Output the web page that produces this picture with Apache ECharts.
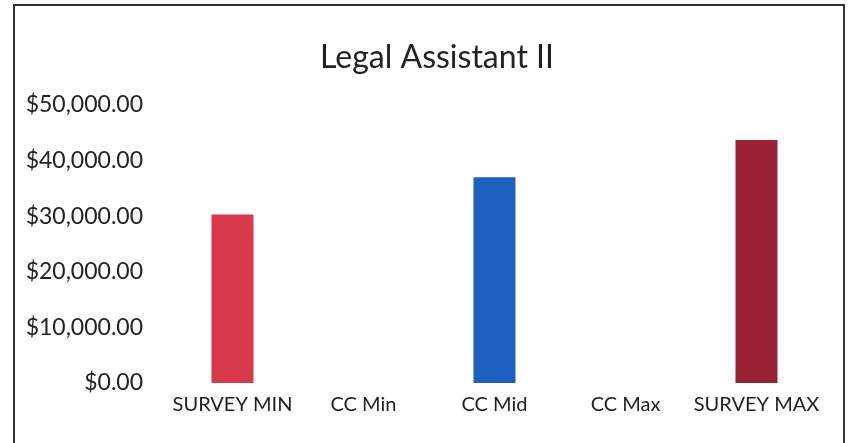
<!DOCTYPE html>
<html><head><meta charset="utf-8">
<script src="https://cdn.jsdelivr.net/npm/echarts@6/dist/echarts.min.js"></script>
<style>html,body{margin:0;padding:0;background:#fff}#c{width:851px;height:443px}</style>
</head><body><div id="c"></div>
<script>
const title = "Legal Assistant II";
const categories = ["SURVEY MIN", "CC Min", "CC Mid", "CC Max", "SURVEY MAX"];
const values = [30300, null, 37000, null, 43700];
const barColors = ["#d8394a", "#d8394a", "#1e5fbf", "#1e5fbf", "#9a2235"];
const yTicks = [0, 10000, 20000, 30000, 40000, 50000];

const chart = echarts.init(document.getElementById('c'));
const font = 'Lato, "Liberation Sans", sans-serif';
chart.setOption({
  animation: false,
  graphic: [{type: 'rect', shape: {x: 14, y: 5, width: 830, height: 445}, style: {fill: 'none', stroke: '#333', lineWidth: 2}}],
  title: {text: title, left: 432, top: 37, textAlign: 'center',
    textStyle: {fontFamily: font, fontSize: 32, fontWeight: 'normal', color: '#222'}},
  grid: {left: 167, right: 29, top: 105, bottom: 60},
  xAxis: {type: 'category', data: categories,
    axisLine: {show: false}, axisTick: {show: false},
    axisLabel: {fontFamily: font, fontSize: 20, color: '#222', margin: 12, interval: 0}},
  yAxis: {type: 'value', min: yTicks[0], max: yTicks[yTicks.length - 1], interval: 10000,
    splitLine: {show: false}, axisLine: {show: false}, axisTick: {show: false},
    axisLabel: {fontFamily: font, fontSize: 23, color: '#222', margin: 24,
      formatter: v => '$' + v.toLocaleString('en-US', {minimumFractionDigits: 2, maximumFractionDigits: 2})}},
  series: [{type: 'bar', barWidth: 42,
    data: values.map((v, i) => ({value: v, itemStyle: {color: barColors[i]}}))}]
});
</script></body></html>
